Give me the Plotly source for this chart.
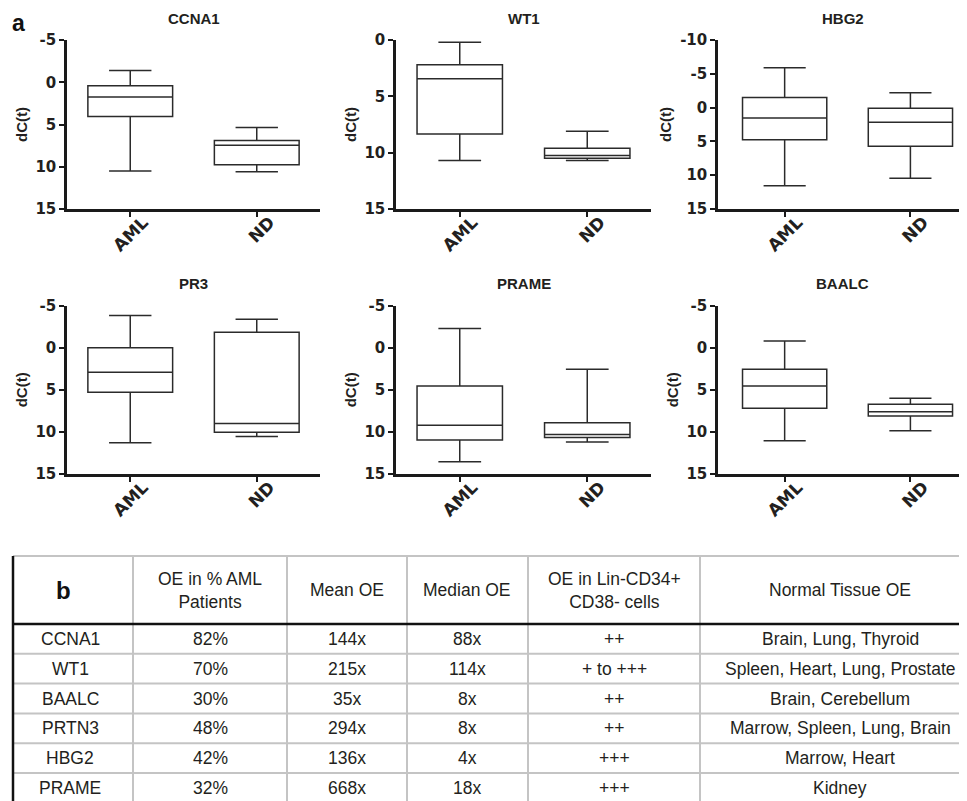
import plotly.graph_objects as go

W, H = 967, 801
OFF = 8  # page body margin of the browser; figure is shifted by this

# ---------------- data: box plots (min, q1, median, q3, max) of dC(t) ----------------
genes = ["CCNA1", "WT1", "HBG2", "PR3", "PRAME", "BAALC"]
groups = ["AML", "ND"]

CCNA1_AML = [-1.4, 0.4, 1.75, 4.05, 10.5]
CCNA1_ND = [5.35, 6.9, 7.45, 9.75, 10.6]
WT1_AML = [0.2, 2.2, 3.45, 8.35, 10.7]
WT1_ND = [8.1, 9.6, 10.25, 10.5, 10.7]
HBG2_AML = [-5.9, -1.5, 1.55, 4.75, 11.55]
HBG2_ND = [-2.2, 0.1, 2.15, 5.7, 10.45]
PR3_AML = [-3.85, 0.0, 2.9, 5.3, 11.3]
PR3_ND = [-3.4, -1.85, 9.0, 10.05, 10.55]
PRAME_AML = [-2.3, 4.55, 9.2, 10.95, 13.55]
PRAME_ND = [2.55, 8.9, 10.3, 10.65, 11.2]
BAALC_AML = [-0.8, 2.55, 4.55, 7.2, 11.05]
BAALC_ND = [6.0, 6.7, 7.6, 8.1, 9.85]

gene_stats = [
    [CCNA1_AML, CCNA1_ND],
    [WT1_AML, WT1_ND],
    [HBG2_AML, HBG2_ND],
    [PR3_AML, PR3_ND],
    [PRAME_AML, PRAME_ND],
    [BAALC_AML, BAALC_ND],
]

y_axis_top = [-5, 0, -10, -5, -5, -5]
y_axis_bottom = [15, 15, 15, 15, 15, 15]
y_tick_step = 5
y_axis_title = "dC(t)"

# ---------------- data: table ----------------
table_headers = ["OE in % AML<br>Patients", "Mean OE", "Median OE",
                 "OE in Lin-CD34+<br>CD38- cells", "Normal Tissue OE"]
table_genes = ["CCNA1", "WT1", "BAALC", "PRTN3", "HBG2", "PRAME"]
oe_pct = ["82%", "70%", "30%", "48%", "42%", "32%"]
mean_oe = ["144x", "215x", "35x", "294x", "136x", "668x"]
median_oe = ["88x", "114x", "8x", "8x", "4x", "18x"]
lin_cd34 = ["++", "+ to +++", "++", "++", "+++", "+++"]
normal_tissue = ["Brain, Lung, Thyroid", "Spleen, Heart, Lung, Prostate",
                 "Brain, Cerebellum", "Marrow, Spleen, Lung, Brain",
                 "Marrow, Heart", "Kidney"]

# ---------------- layout helpers (reference pixel -> paper fraction) ----------------
FW, FH = W - OFF, H - OFF


def fx(x):
    return (x - OFF) / FW


def fy(y):
    return 1 - (y - OFF) / FH


AX = "#1a1a1a"
TXT = "#231f20"
BOLD = "Liberation Sans, Arial, sans-serif"

col_px = [(67, 320, [-0.5, 1.5]), (396, 651, [-0.5, 1.5]), (718, 967, [-0.53, 1.45])]
row_px = [(40, 209), (305.7, 474)]

fig = go.Figure()
layout = {}
annotations = []
shapes = []

for i, gene in enumerate(genes):
    r, c = divmod(i, 3)
    sfx = "" if i == 0 else str(i + 1)
    st = gene_stats[i]
    fig.add_trace(go.Box(
        x=groups,
        lowerfence=[s[0] for s in st],
        q1=[s[1] for s in st],
        median=[s[2] for s in st],
        q3=[s[3] for s in st],
        upperfence=[s[4] for s in st],
        xaxis="x" + sfx, yaxis="y" + sfx,
        width=0.67, whiskerwidth=0.5,
        fillcolor="rgba(0,0,0,0)",
        line=dict(color="#2b2b2b", width=1.5),
        boxpoints=False, hoverinfo="skip", showlegend=False,
    ))
    x0, x1, xr = col_px[c]
    y0, y1 = row_px[r]
    ticks = list(range(y_axis_top[i], y_axis_bottom[i] + 1, y_tick_step))
    layout["xaxis" + sfx] = dict(
        domain=[fx(x0), min(1.0, fx(x1))], range=xr, anchor="y" + sfx, type="category",
        showline=True, linecolor=AX, linewidth=2.5,
        ticks="outside", ticklen=5, tickwidth=2, tickcolor=AX,
        tickangle=-45, ticklabelshift=13, ticklabelstandoff=-11,
        tickfont=dict(family="DejaVu Sans", size=17, color=TXT, weight="bold"),
        showgrid=False, zeroline=False, fixedrange=True,
    )
    layout["yaxis" + sfx] = dict(
        domain=[fy(y1), fy(y0)], range=[y_axis_bottom[i], y_axis_top[i]],
        anchor="x" + sfx, tickmode="array", tickvals=ticks,
        ticktext=[str(t) for t in ticks],
        showline=True, linecolor=AX, linewidth=2.5,
        ticks="outside", ticklen=5, tickwidth=2, tickcolor=AX,
        tickfont=dict(family="DejaVu Sans", size=15, color=TXT, weight="bold"),
        title=dict(text=y_axis_title, standoff=5,
                   font=dict(family=BOLD, size=15, color=TXT, weight="bold")),
        showgrid=False, zeroline=False, fixedrange=True, automargin=False,
    )
    annotations.append(dict(
        text=gene, x=fx((x0 + x1) / 2), y=fy(y0 - 22), xref="paper", yref="paper",
        showarrow=False, xanchor="center", yanchor="middle",
        font=dict(family=BOLD, size=15, color=TXT, weight="bold"),
    ))

# panel letter a
annotations.append(dict(text="a", x=fx(18), y=1, xref="paper", yref="paper",
                        showarrow=False, xanchor="center", yanchor="top",
                        font=dict(family=BOLD, size=23, color="#111", weight="bold")))

# ---------------- table ----------------
tbl_left, tbl_right = 13, 967
tbl_top, hdr_bottom = 556, 624
row_h = 29.8
col_edges = [133, 287, 407, 528, 700]
col_centers = [70, 210, 347, 467, 614, 840]
GRID = "#c4c4c4"

shapes.append(dict(type="line", xref="paper", yref="paper", x0=fx(tbl_left), x1=1,
                   y0=fy(tbl_top), y1=fy(tbl_top), line=dict(color=GRID, width=2)))
for xe in col_edges:
    shapes.append(dict(type="line", xref="paper", yref="paper", x0=fx(xe), x1=fx(xe),
                       y0=fy(tbl_top), y1=0, line=dict(color=GRID, width=2)))
for k in range(1, len(table_genes)):
    yy = hdr_bottom + k * row_h
    shapes.append(dict(type="line", xref="paper", yref="paper", x0=fx(tbl_left), x1=1,
                       y0=fy(yy), y1=fy(yy), line=dict(color=GRID, width=2)))
shapes.append(dict(type="line", xref="paper", yref="paper", x0=fx(tbl_left), x1=1,
                   y0=fy(hdr_bottom), y1=fy(hdr_bottom), line=dict(color="#111", width=2.5)))
shapes.append(dict(type="line", xref="paper", yref="paper", x0=fx(tbl_left), x1=fx(tbl_left),
                   y0=fy(tbl_top), y1=0, line=dict(color="#111", width=2.5)))

TFONT = dict(family="Liberation Sans, Arial, sans-serif", size=17.5, color=TXT)
hdr_mid = (tbl_top + hdr_bottom) / 2
annotations.append(dict(text="b", x=fx(63), y=fy(hdr_mid), xref="paper", yref="paper",
                        showarrow=False, xanchor="center", yanchor="middle",
                        font=dict(family=BOLD, size=24, color="#111", weight="bold")))
for j, h in enumerate(table_headers):
    annotations.append(dict(text=h, x=fx(col_centers[j + 1]), y=fy(hdr_mid), xref="paper",
                            yref="paper", showarrow=False, xanchor="center",
                            yanchor="middle", font=TFONT))
columns = [table_genes, oe_pct, mean_oe, median_oe, lin_cd34, normal_tissue]
for j, col in enumerate(columns):
    for k, val in enumerate(col):
        yy = hdr_bottom + (k + 0.5) * row_h
        annotations.append(dict(text=val, x=fx(col_centers[j]), y=fy(yy), xref="paper",
                                yref="paper", showarrow=False, xanchor="center",
                                yanchor="middle", font=TFONT))

fig.update_layout(
    width=FW, height=FH,
    margin=dict(l=0, r=0, t=0, b=0),
    paper_bgcolor="white", plot_bgcolor="white",
    annotations=annotations, shapes=shapes,
    showlegend=False,
    **layout,
)

fig.write_html("out.html")
